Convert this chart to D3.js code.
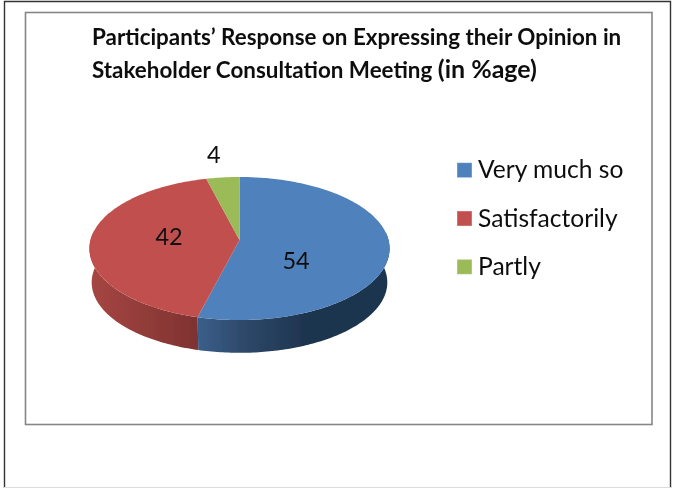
<!DOCTYPE html>
<html><head><meta charset="utf-8">
<script src="https://cdn.jsdelivr.net/npm/d3@7/dist/d3.min.js"></script>
<style>html,body{margin:0;padding:0;background:#fff}svg{display:block}text{font-family:Lato,"Open Sans",sans-serif;fill:#111}</style>
</head><body><svg id="c" width="673" height="488"></svg>
<script>
const titleLines = ["Participants’ Response on Expressing their Opinion in","Stakeholder Consultation Meeting "];
const titleSuffix = ["","(in %age)"];
const categories = ["Very much so","Satisfactorily","Partly"];
const values = [54,42,4];
const colors = ["#4f81bd","#c0504d","#9bbb59"];
const sideStops = [[["0","#3a5f8a"],["0.25","#2d4869"],["0.55","#1f3550"],["1","#1f3550"]],[["0","#a64643"],["1","#7e3230"]],[["0","#7a9145"],["1","#7a9145"]]];

const W=673,H=488;
const svg=d3.select("#c");
const defs=svg.append("defs");
defs.append("filter").attr("id","soft").attr("x","-5%").attr("y","-5%").attr("width","110%").attr("height","110%")
  .append("feGaussianBlur").attr("stdDeviation",0.45);

// frames
svg.append("path").attr("d",`M4.5,${H}V1.5H670.5V${H}`).attr("fill","none").attr("stroke","#333").attr("stroke-width",1.4);
svg.append("line").attr("x1",4).attr("x2",671).attr("y1",487.5).attr("y2",487.5).attr("stroke","#ddd");
svg.append("rect").attr("x",25.5).attr("y",12.5).attr("width",626.5).attr("height",412).attr("fill","#fff").attr("stroke","#868686").attr("stroke-width",1.6);

const chart=svg.append("g").attr("filter","url(#soft)");

// title
const tt=chart.selectAll("text.t").data(titleLines).join("text").attr("class","t")
 .attr("x",92).attr("y",(d,i)=>45+i*33).attr("font-size",22.4).attr("font-weight",700).text(d=>d);
tt.append("tspan").attr("font-size",25).text((d,i)=>titleSuffix[i]);

// perspective disc projection
const cx=239.5, apexY=240, k=149, b=70.5, p=0.119, depth=34, shrink=0.985;
const proj=(a,s=1,dy=0)=>{
  const u=Math.sin(a), v=-Math.cos(a), w=1-p*v;
  return [cx+s*k*u/w, apexY+dy+s*b*v/w];
};
const arcs=d3.pie().sort(null).value(d=>d)(values);
const line=d3.line();
const samples=(a0,a1)=>{const n=Math.max(2,Math.ceil((a1-a0)*60));return d3.range(n+1).map(i=>a0+(a1-a0)*i/n);};

// side wall
arcs.forEach((d,i)=>{
  const a0=Math.max(d.startAngle,Math.PI/2-0.11), a1=Math.min(d.endAngle,3*Math.PI/2+0.11);
  if(a1<=a0) return;
  const top=samples(a0,a1).map(a=>proj(a));
  const bot=samples(a0,a1).map(a=>proj(a,shrink,depth)).reverse();
  const xs=top.concat(bot).map(q=>q[0]);
  const id="side"+i;
  const g=defs.append("linearGradient").attr("id",id).attr("gradientUnits","userSpaceOnUse")
    .attr("x1",d3.min(xs)).attr("x2",d3.max(xs)).attr("y1",0).attr("y2",0);
  sideStops[i].forEach(s=>g.append("stop").attr("offset",s[0]).attr("stop-color",s[1]));
  chart.append("path").attr("d",line(top.concat(bot))+"Z").attr("fill",`url(#${id})`);
});

// top slices
arcs.forEach((d,i)=>{
  const pts=[[cx,apexY]].concat(samples(d.startAngle,d.endAngle).map(a=>proj(a)));
  chart.append("path").attr("d",line(pts)+"Z").attr("fill",colors[i]);
});

// data labels: radial factor and rotation offset along each slice
const labelR=[0.447,0.48,1.362], labelTurn=[0.54,0.09,-0.016];
arcs.forEach((d,i)=>{
  const m=(d.startAngle+d.endAngle)/2+labelTurn[i], q=proj(m,labelR[i]);
  chart.append("text").attr("x",q[0]).attr("y",q[1]+8).attr("text-anchor","middle").attr("font-size",23.5).text(values[i]);
});

// legend
const lg=d3.scaleBand().domain(categories).range([146,291]);
categories.forEach((c,i)=>{
  const y=lg(c)+lg.bandwidth()/2;
  chart.append("rect").attr("x",457).attr("y",y-7.5).attr("width",15).attr("height",15).attr("fill",colors[i]).attr("stroke","#fff").attr("stroke-opacity",.4);
  chart.append("text").attr("x",478).attr("y",y+8).attr("font-size",24.6).text(c);
});
</script></body></html>
